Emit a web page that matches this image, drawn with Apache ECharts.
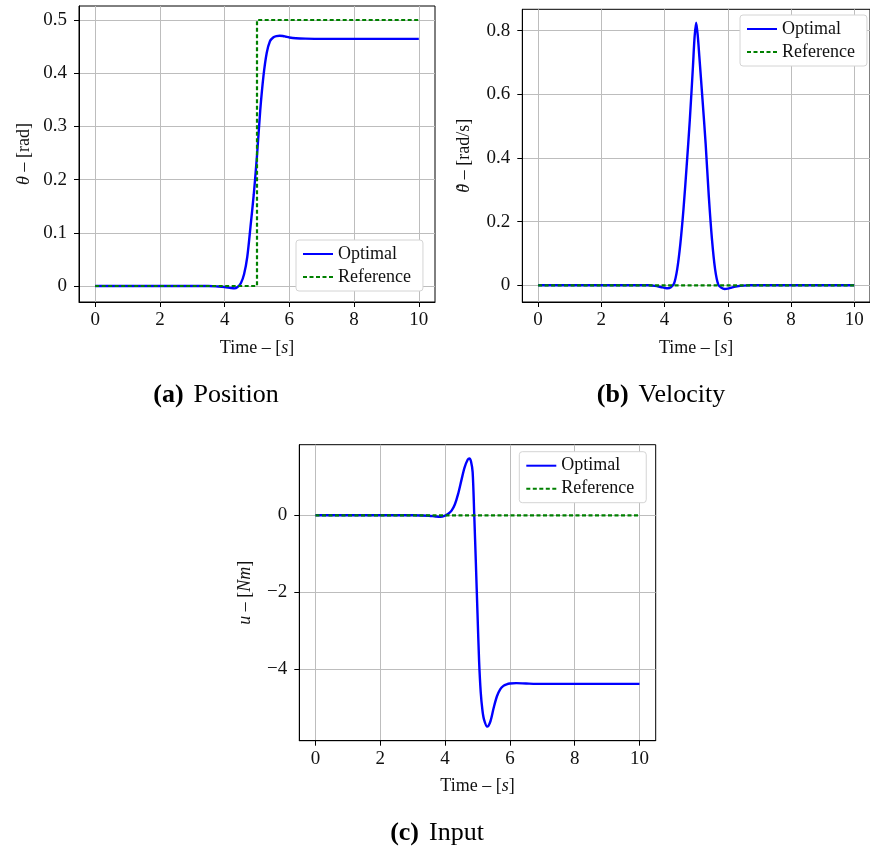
<!DOCTYPE html>
<html>
<head>
<meta charset="utf-8">
<script src="https://cdn.jsdelivr.net/npm/echarts@6/dist/echarts.min.js"></script>
<style>html,body{margin:0;padding:0;background:#fff;}#c{width:870px;height:851px;}</style>
</head>
<body>
<div id="c"></div>
<script>
// ---- data ----
const xTicks = [0, 2, 4, 6, 8, 10];
const posTicks = [0, 0.1, 0.2, 0.3, 0.4, 0.5];
const velTicks = [0, 0.2, 0.4, 0.6, 0.8];
const inpTicks = [-4, -2, 0];

const posT   = [0, 3.5, 3.8, 4.0, 4.2, 4.3, 4.4, 4.5, 4.6, 4.7, 4.8, 4.9, 5.0, 5.1, 5.2, 5.3, 5.4, 5.5, 5.6, 5.7, 5.8, 5.9, 6.0, 6.2, 6.5, 7.0, 10];
const posOpt = [0, 0, -0.001, -0.002, -0.0038, -0.0044, -0.002, 0.005, 0.022, 0.055, 0.112, 0.172, 0.245, 0.33, 0.395, 0.438, 0.46, 0.467, 0.4695, 0.4705, 0.470, 0.4685, 0.4672, 0.4658, 0.465, 0.4645, 0.4645];
const posRefT = [0, 5, 5, 10];
const posRef  = [0, 0, 0.5, 0.5];

const velT   = [0, 3.5, 3.7, 3.9, 4.0, 4.1, 4.2, 4.3, 4.4, 4.5, 4.6, 4.7, 4.8, 4.9, 4.95, 5.0, 5.05, 5.1, 5.2, 5.3, 5.4, 5.5, 5.6, 5.7, 5.8, 5.9, 6.0, 6.1, 6.2, 6.3, 6.5, 6.7, 10];
const velOpt = [0, 0, -0.002, -0.006, -0.008, -0.0095, -0.006, 0.005, 0.05, 0.13, 0.24, 0.375, 0.52, 0.69, 0.78, 0.825, 0.785, 0.72, 0.585, 0.445, 0.28, 0.145, 0.05, 0.002, -0.008, -0.0115, -0.0105, -0.008, -0.005, -0.003, -0.001, 0, 0];
const velRefT = [0, 10];
const velRef  = [0, 0];

const inpT   = [0, 3.0, 3.5, 3.7, 3.85, 4.0, 4.1, 4.2, 4.3, 4.4, 4.5, 4.6, 4.7, 4.75, 4.8, 4.85, 4.9, 4.95, 5.0, 5.05, 5.1, 5.15, 5.2, 5.3, 5.4, 5.5, 5.6, 5.7, 5.8, 5.9, 6.0, 6.2, 6.5, 7.0, 10];
const inpOpt = [0, 0, -0.01, -0.03, -0.04, -0.01, 0.04, 0.12, 0.28, 0.55, 0.90, 1.24, 1.45, 1.48, 1.40, 1.12, 0.0, -1.25, -2.55, -3.8, -4.6, -5.05, -5.3, -5.49, -5.35, -5.0, -4.7, -4.52, -4.43, -4.39, -4.37, -4.36, -4.37, -4.38, -4.38];
const inpRefT = [0, 10];
const inpRef  = [0, 0];

// ---- helpers ----
const FONT = '"Liberation Serif", "DejaVu Serif", serif';
const pairs = (t, v) => t.map((x, i) => [x, v[i]]);
const fmt = v => (v < 0 ? '\u2212' + (-v) : String(v));
const BLUE = '#0000ff', GREEN = '#008000';
const DASH = [4, 2.5];

const grids = [
  { left: 79, top: 6, width: 356, height: 296 },
  { left: 522.3, top: 9.3, width: 353, height: 292.7 },
  { left: 299.3, top: 444.7, width: 356.4, height: 296 }
];
const yRanges = [[-0.0301, 0.5263], [-0.0525, 0.8672], [-5.855, 1.834]];
const yTickSets = [posTicks, velTicks, inpTicks];
const yNames = ['{i|θ}{n| – [rad]}', '{th|θ}{dt|˙}{sp|}{n| – [rad/s]}', '{i|u}{n| – [}{i|Nm}{n|]}'];
const yGaps = [46, 49, 45];
const legendPos = [{ left: 296, top: 240 }, { left: 740, top: 15 }, { left: 519.3, top: 451.7 }];

const richName = {
  n: { fontFamily: FONT, fontSize: 18, color: '#111' },
  i: { fontFamily: FONT, fontSize: 18, color: '#111', fontStyle: 'italic' },
  th: { fontFamily: FONT, fontSize: 18, color: '#111', fontStyle: 'italic', width: 6, align: 'left' },
  dt: { fontFamily: FONT, fontSize: 20, color: '#111', width: 0, align: 'center', verticalAlign: 'top', lineHeight: 8 },
  sp: { fontFamily: FONT, fontSize: 18, width: 3 }
};
const capRich = {
  b: { fontFamily: FONT, fontSize: 26, fontWeight: 'bold', fill: '#000' },
  s: { fontFamily: FONT, fontSize: 26, fill: '#000', width: 10 },
  r: { fontFamily: FONT, fontSize: 26, fill: '#000' }
};

const option = {
  animation: false,
  backgroundColor: '#fff',
  grid: grids.map(g => Object.assign({ show: true, borderColor: '#000', borderWidth: 1, backgroundColor: 'transparent', containLabel: false }, g)),
  xAxis: grids.map((g, i) => ({
    type: 'value', gridIndex: i, min: -0.5, max: 10.5,
    axisLine: { show: true, onZero: false, lineStyle: { color: '#000', width: 1 } },
    axisTick: { show: true, inside: false, length: 5, customValues: xTicks, lineStyle: { color: '#000' } },
    axisLabel: { customValues: xTicks, formatter: fmt, color: '#111', fontFamily: FONT, fontSize: 19, margin: 9 },
    splitLine: { show: true, lineStyle: { color: '#bdbdbd', width: 1 } },
    name: '{n|Time – [}{i|s}{n|]}', nameLocation: 'middle', nameGap: 37,
    nameTextStyle: { rich: richName }
  })),
  yAxis: grids.map((g, i) => ({
    type: 'value', gridIndex: i, min: yRanges[i][0], max: yRanges[i][1],
    axisLine: { show: true, onZero: false, lineStyle: { color: '#000', width: 1 } },
    axisTick: { show: true, inside: false, length: 5, customValues: yTickSets[i], lineStyle: { color: '#000' } },
    axisLabel: { customValues: yTickSets[i], formatter: fmt, color: '#111', fontFamily: FONT, fontSize: 19, margin: 12 },
    splitLine: { show: true, lineStyle: { color: '#bdbdbd', width: 1 } },
    name: yNames[i], nameLocation: 'middle', nameGap: yGaps[i], nameRotate: 90,
    nameTextStyle: { rich: richName }
  })),
  legend: legendPos.map(p => Object.assign({
    orient: 'vertical', data: ['Optimal', 'Reference'],
    padding: [5, 12, 5, 6], itemGap: 5, itemWidth: 30, itemHeight: 12,
    backgroundColor: '#fff', borderColor: '#d4d4d4', borderWidth: 1, borderRadius: 3,
    itemStyle: { opacity: 0 },
    textStyle: { fontFamily: FONT, fontSize: 18, color: '#111' },
    selectedMode: false
  }, p)),
  series: [
    { name: 'Optimal', type: 'line', xAxisIndex: 0, yAxisIndex: 0, data: pairs(posT, posOpt), smooth: 0.3, symbol: 'none', lineStyle: { color: BLUE, width: 2.4 }, itemStyle: { color: BLUE } },
    { name: 'Reference', type: 'line', xAxisIndex: 0, yAxisIndex: 0, data: pairs(posRefT, posRef), symbol: 'none', lineStyle: { color: GREEN, width: 2.2, type: DASH }, itemStyle: { color: GREEN } },
    { name: 'Optimal', type: 'line', xAxisIndex: 1, yAxisIndex: 1, data: pairs(velT, velOpt), smooth: 0.3, symbol: 'none', lineStyle: { color: BLUE, width: 2.4 }, itemStyle: { color: BLUE } },
    { name: 'Reference', type: 'line', xAxisIndex: 1, yAxisIndex: 1, data: pairs(velRefT, velRef), symbol: 'none', lineStyle: { color: GREEN, width: 2.2, type: DASH }, itemStyle: { color: GREEN } },
    { name: 'Optimal', type: 'line', xAxisIndex: 2, yAxisIndex: 2, data: pairs(inpT, inpOpt), smooth: 0.3, symbol: 'none', lineStyle: { color: BLUE, width: 2.4 }, itemStyle: { color: BLUE } },
    { name: 'Reference', type: 'line', xAxisIndex: 2, yAxisIndex: 2, data: pairs(inpRefT, inpRef), symbol: 'none', lineStyle: { color: GREEN, width: 2.2, type: DASH }, itemStyle: { color: GREEN } }
  ],
  graphic: [
    { type: 'text', x: 216, y: 395, style: { text: '{b|(a)}{s|}{r|Position}', align: 'center', verticalAlign: 'middle', rich: capRich } },
    { type: 'text', x: 661, y: 395, style: { text: '{b|(b)}{s|}{r|Velocity}', align: 'center', verticalAlign: 'middle', rich: capRich } },
    { type: 'text', x: 437, y: 833, style: { text: '{b|(c)}{s|}{r|Input}', align: 'center', verticalAlign: 'middle', rich: capRich } }
  ]
};

const chart = echarts.init(document.getElementById('c'), null, { renderer: 'canvas' });
chart.setOption(option);
</script>
</body>
</html>
